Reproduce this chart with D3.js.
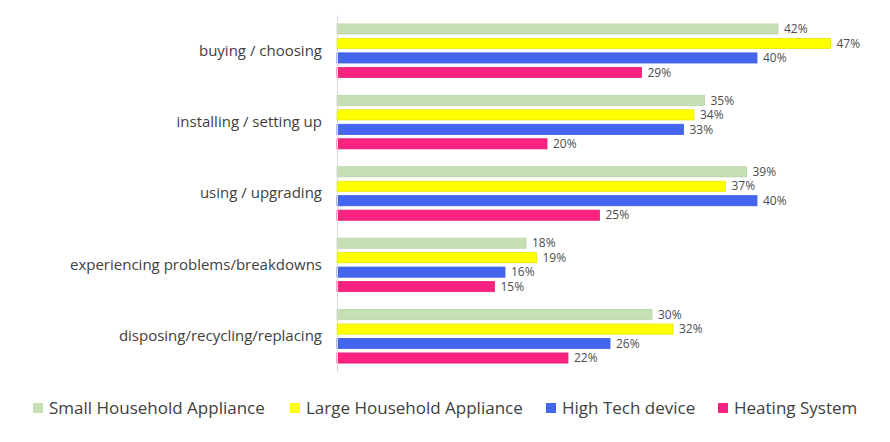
<!DOCTYPE html>
<html><head><meta charset="utf-8">
<script src="https://cdn.jsdelivr.net/npm/d3@7"></script>
<style>body{margin:0;background:#fff;} svg{display:block;font-family:"Open Sans", Lato, sans-serif;}</style>
</head><body>
<svg id="chart" width="890" height="442"></svg>
<script>
const categories = ["buying / choosing","installing / setting up","using / upgrading","experiencing problems/breakdowns","disposing/recycling/replacing"];
const seriesNames = ["Small Household Appliance","Large Household Appliance","High Tech device","Heating System"];
const smallHousehold = [42,35,39,18,30];
const largeHousehold = [47,34,37,19,32];
const highTech = [40,33,40,16,26];
const heating = [29,20,25,15,22];
const colors = ["#c5e0b4","#ffff00","#4466ee","#fb2280"];
const strokes = ["#b8d4a6","#e8e800","#3b5de0","#e81e76"];

const seriesValues = [smallHousehold, largeHousehold, highTech, heating];
const svg = d3.select("#chart");
const plotLeft = 337, plotTop = 15, plotBottom = 372;
const x = d3.scaleLinear().domain([0, 50]).range([plotLeft, plotLeft + 525]);
const y0 = d3.scaleBand().domain(categories).range([plotTop, plotBottom]).paddingInner(0.25).paddingOuter(0.125);
const y1 = d3.scaleBand().domain(seriesNames).range([0, y0.bandwidth()]).paddingInner(0.3).paddingOuter(0);

const g = svg.append("g");
categories.forEach((c, ci) => {
  const grp = g.append("g").attr("transform", `translate(0,${y0(c)})`);
  seriesNames.forEach((s, si) => {
    const v = seriesValues[si][ci];
    grp.append("rect").attr("x", x(0)).attr("y", y1(s)).attr("width", x(v) - x(0)).attr("height", y1.bandwidth())
      .attr("fill", colors[si]).attr("stroke", strokes[si]).attr("stroke-width", 0.8);
    grp.append("text").attr("x", x(v) + 6).attr("y", y1(s) + y1.bandwidth() / 2).attr("dy", "0.35em")
      .attr("font-size", 12).attr("fill", "#4d4d4d").text(v + "%");
  });
});

const yAxis = d3.axisLeft(y0).tickSize(0).tickPadding(15);
const ax = svg.append("g").attr("transform", `translate(${plotLeft},0)`).call(yAxis);
ax.select(".domain").attr("stroke", "#d9d9d9");
ax.selectAll("text").attr("font-size", 15).attr("fill", "#404040").attr("font-family", "'Open Sans', sans-serif");

const legendX = [33, 290, 546, 718];
const leg = svg.append("g");
seriesNames.forEach((s, i) => {
  const lg = leg.append("g").attr("transform", `translate(${legendX[i]},408)`);
  lg.append("rect").attr("x", 0).attr("y", -5).attr("width", 10).attr("height", 10).attr("fill", colors[i]);
  lg.append("text").attr("x", 16).attr("dy", "0.35em").attr("font-size", 17).attr("fill", "#404040").text(s);
});
</script>
</body></html>
